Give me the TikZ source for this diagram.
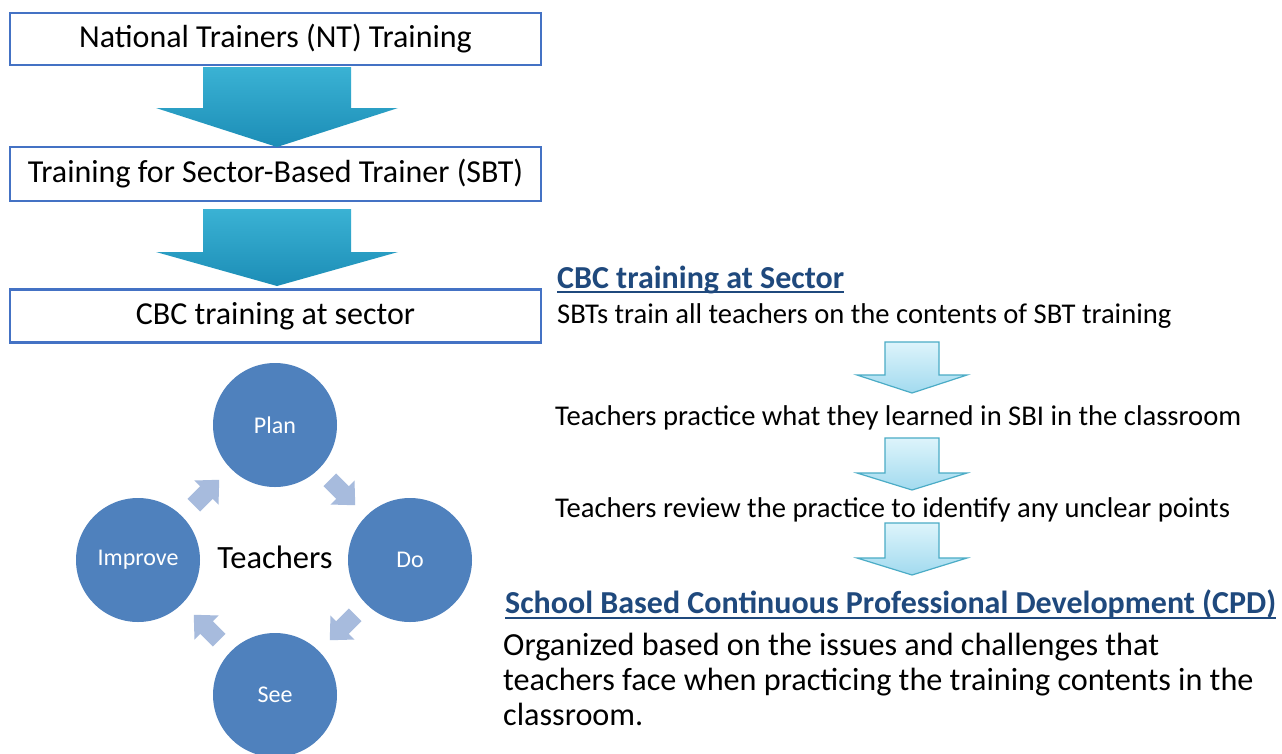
\documentclass[tikz,border=0pt]{standalone}
\usepackage{fontspec}
\setmainfont{Carlito}
\usetikzlibrary{calc}

\definecolor{boxblue}{HTML}{4472C4}
\definecolor{circblue}{HTML}{4F81BD}
\definecolor{cycgrey}{HTML}{A7BBDD}
\definecolor{headblue}{HTML}{1F497D}
\definecolor{tealtop}{HTML}{3AB2D4}
\definecolor{tealbot}{HTML}{1C8DB6}
\definecolor{palefill}{HTML}{DDF4FB}
\definecolor{palebot}{HTML}{A2DAEF}
\definecolor{paleedge}{HTML}{4BACC6}

\tikzset{
  stagebox/.style={draw=boxblue, line width=2.5pt, minimum width=531pt,
    minimum height=53pt, inner sep=0pt, font=\fontsize{32}{36}\selectfont},
  stepcircle/.style={circle, fill=circblue, minimum size=124pt, inner sep=0pt,
    text=white, font=\fontsize{24}{28}\selectfont},
  bigarrow/.style={top color=tealtop, bottom color=tealbot},
  palearrow/.style={top color=palefill, bottom color=palebot, draw=paleedge, line width=1.2pt},
  plaintext/.style={anchor=base west, inner sep=0pt, font=\fontsize{28.6}{32}\selectfont},
  bodytext/.style={anchor=base west, inner sep=0pt, font=\fontsize{32.2}{36}\selectfont},
  headtext/.style={anchor=base west, inner sep=0pt, text=headblue, font=\bfseries#1},
  headline/.style={draw=headblue, line width=1.6pt},
  cycarrow/.pic={\path[fill=cycgrey] (-18,-9) -- (0,-9) -- (0,-17) -- (18,0)
    -- (0,17) -- (0,9) -- (-18,9) -- cycle;}
}

% downward block arrow: style, top point, tip point, head length, shaft half width, head half width
\newcommand{\blockarrow}[6]{%
  \path[#1] let \p1=#2, \p2=#3 in
    (\x2-#5,\y1) -- (\x2+#5,\y1) -- (\x2+#5,\y2+#4) -- (\x2+#6,\y2+#4)
    -- (\x2,\y2) -- (\x2-#6,\y2+#4) -- (\x2-#5,\y2+#4) -- cycle;}

\begin{document}
\begin{tikzpicture}[x=1pt, y=-1pt]
  \useasboundingbox[fill=white] (0,0) rectangle (1282,753);

  % training cascade
  \node[stagebox, minimum height=52pt] (nt) at (275.5,39) {National Trainers (NT) Training};
  \node[stagebox, minimum height=54pt] (sbt) at (275.5,174) {Training for Sector-Based Trainer (SBT)};
  \node[stagebox] (cbc) at (275.5,316) {CBC training at sector};

  \coordinate (a1top) at (277,67);
  \coordinate (a1tip) at (277,147);
  \coordinate (a2top) at (277,209);
  \coordinate (a2tip) at (277,286);
  \blockarrow{bigarrow}{(a1top)}{(a1tip)}{39pt}{74pt}{121pt}
  \blockarrow{bigarrow}{(a2top)}{(a2tip)}{34pt}{74pt}{121pt}

  % plan-do-see-improve cycle
  \node[stepcircle] (plan) at (275,425) {Plan};
  \node[stepcircle] (do) at (410,560) {Do};
  \node[stepcircle] (see) at (275,695) {See};
  \node[stepcircle] (improve) at (138,560) {Improve};
  \node[font=\fontsize{32.5}{36}\selectfont] (teachers) at (275,557) {Teachers};

  \pic[rotate=-45] at ($(plan)!0.5!(do)$) {cycarrow};
  \pic[rotate=-135] at ($(do)!0.5!(see)$) {cycarrow};
  \pic[rotate=135] at ($(see)!0.5!(improve)$) {cycarrow};
  \pic[rotate=45] at ($(improve)!0.5!(plan)$) {cycarrow};

  % sector training steps
  \node[headtext={\fontsize{32}{36}\selectfont}] (h1) at (557,288) {CBC training at Sector};
  \draw[headline] ([yshift=-4pt]h1.base west) -- ([yshift=-4pt]h1.base east);
  \node[plaintext] (t1) at (557,323) {SBTs train all teachers on the contents of SBT training};
  \node[plaintext] (t2) at (555,425) {Teachers practice what they learned in SBI in the classroom};
  \node[plaintext] (t3) at (555,517) {Teachers review the practice to identify any unclear points};

  \coordinate (p1top) at (912,342);
  \coordinate (p1tip) at (912,393);
  \coordinate (p2top) at (912,438);
  \coordinate (p2tip) at (912,490);
  \coordinate (p3top) at (912,523);
  \coordinate (p3tip) at (912,575);
  \blockarrow{palearrow}{(p1top)}{(p1tip)}{18pt}{27pt}{55pt}
  \blockarrow{palearrow}{(p2top)}{(p2tip)}{17pt}{27pt}{55pt}
  \blockarrow{palearrow}{(p3top)}{(p3tip)}{17pt}{27pt}{55pt}

  % school based CPD
  \node[headtext={\fontsize{32}{36}\selectfont}] (h2) at (505,613) {School Based Continuous Professional Development (CPD)};
  \draw[headline] ([yshift=-5pt]h2.base west) -- ([yshift=-5pt]h2.base east);
  \node[bodytext] (b1) at (503,655) {Organized based on the issues and challenges that};
  \node[bodytext] (b2) at (503,690) {teachers face when practicing the training contents in the};
  \node[bodytext] (b3) at (503,725) {classroom.};
\end{tikzpicture}
\end{document}
